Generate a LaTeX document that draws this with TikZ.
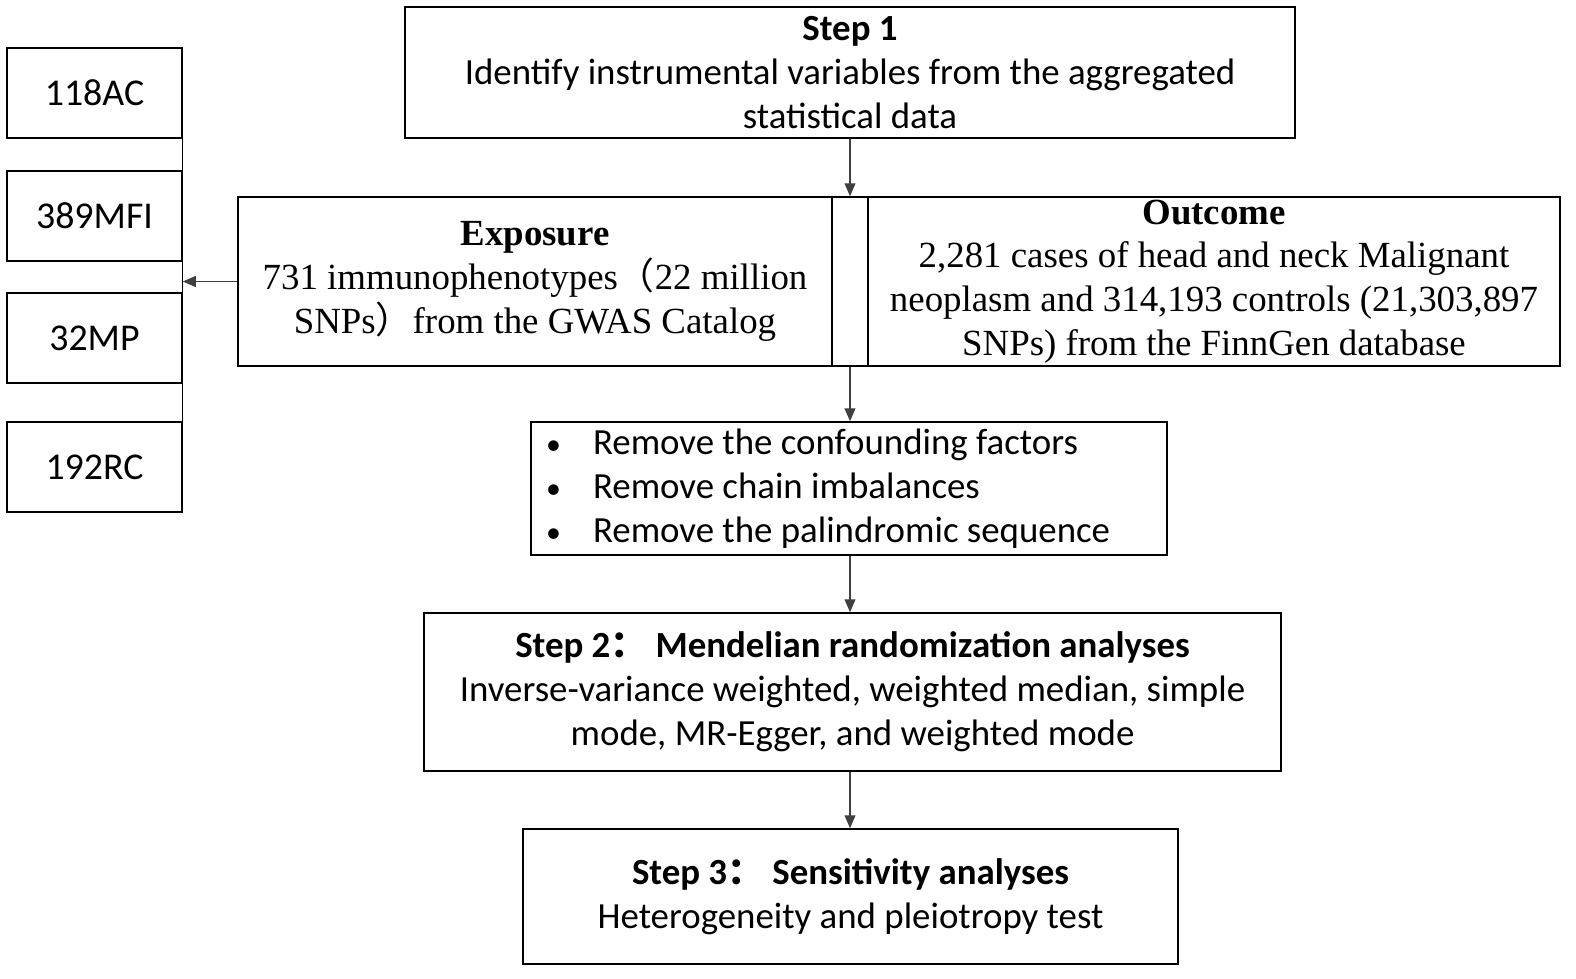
\documentclass[tikz,border=0pt]{standalone}
\usepackage{fontspec}
\setmainfont{Carlito}
\newfontfamily\timesfont{Liberation Serif}
\newfontfamily\cjk{Noto Sans CJK SC}
\usetikzlibrary{positioning,arrows.meta}

\begin{document}
\begin{tikzpicture}[x=1bp,y=-1bp,
  box/.style={draw,line width=1.6pt,inner sep=0pt,align=center,font=\fontsize{37}{44}\selectfont},
  serifbox/.style={box,font=\timesfont\fontsize{37}{44}\selectfont},
  sidebox/.style={box,minimum width=175bp,minimum height=90bp,font=\fontsize{38}{44}\selectfont},
  flow/.style={draw=black!75,line width=1.1pt,-{Triangle[length=13pt,width=11pt]}}]
\useasboundingbox (0,0) rectangle (1576,978);
%Основные блоки
\node[box,minimum width=890bp,minimum height=131bp] (step1) at (850,72.5)
  {\textbf{Step 1}\\Identify instrumental variables from the aggregated\\statistical data};
\node[serifbox,minimum width=594bp,minimum height=169bp] (expo) at (535,281.5)
  {\textbf{Exposure}\\731 immunophenotypes{\cjk （}22 million\\SNPs{\cjk ）}from the GWAS Catalog};
\node[box,minimum width=36bp,minimum height=169bp] (gap) at (850,281.5) {};
\node[serifbox,minimum width=692bp,minimum height=169bp] (outc) at (1214,281.5)
  {\textbf{Outcome}\\2,281 cases of head and neck Malignant\\neoplasm and 314,193 controls (21,303,897\\SNPs) from the FinnGen database};
\node[box,minimum width=636bp,minimum height=133bp,text width=606bp,inner xsep=15bp,align=flush left] (remove) at (849,488.5)
  {\makebox[47bp][l]{\fontsize{30}{44}\selectfont\textbullet}Remove the confounding factors\\
   \makebox[47bp][l]{\fontsize{30}{44}\selectfont\textbullet}Remove chain imbalances\\
   \makebox[47bp][l]{\fontsize{30}{44}\selectfont\textbullet}Remove the palindromic sequence};
\node[box,minimum width=857bp,minimum height=158bp] (step2) at (852.5,692)
  {\textbf{Step 2{\cjk ：}\ Mendelian randomization analyses}\\Inverse-variance weighted, weighted median, simple\\mode, MR-Egger, and weighted mode};
\node[box,minimum width=655bp,minimum height=135bp] (step3) at (850.5,896.5)
  {\textbf{Step 3{\cjk ：}\ Sensitivity analyses}\\Heterogeneity and pleiotropy test};
%Боковые блоки
\node[sidebox] (ac) at (94.5,93) {118AC};
\node[sidebox] (mfi) at (94.5,216) {389MFI};
\node[sidebox] (mp) at (94.5,338) {32MP};
\node[sidebox] (rc) at (94.5,467) {192RC};
%Стрелки
\draw[line width=1pt] (ac.south east) -- (rc.north east);
\draw[flow] (expo.west) -- (expo.west -| mfi.east);
\draw[flow] (step1.south -| gap.north) -- (gap.north);
\draw[flow] (gap.south) -- (remove.north -| gap.south);
\draw[flow] (remove.south -| gap.south) -- (step2.north -| gap.south);
\draw[flow] (step2.south -| gap.south) -- (step3.north -| gap.south);
\end{tikzpicture}
\end{document}
